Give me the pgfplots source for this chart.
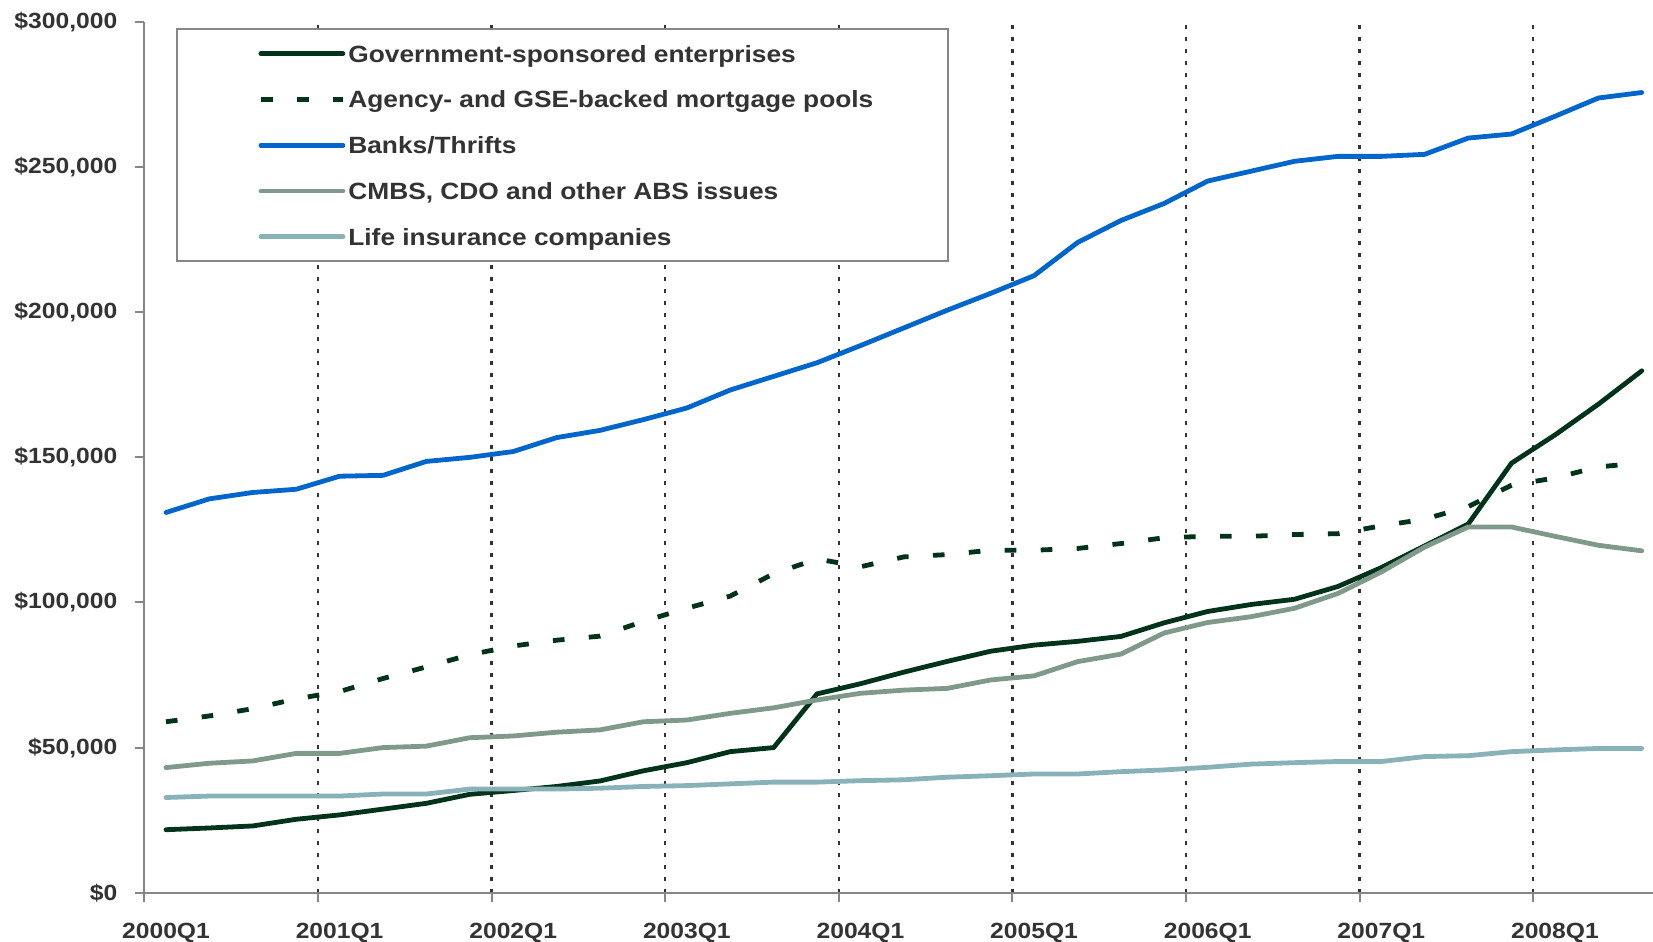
\documentclass[border=0pt]{standalone}
\usepackage{fontspec}
\setmainfont{Liberation Sans}[FakeStretch=1.12]
\usepackage{pgfplots}
\usepackage{pgfplotstable}
\pgfplotsset{compat=1.18}
\definecolor{gse}{HTML}{00331A}
\definecolor{bank}{HTML}{0066CC}
\definecolor{cmbs}{HTML}{7F9A8A}
\definecolor{life}{HTML}{88B1B8}
\definecolor{txt}{HTML}{333333}
\definecolor{axisgray}{HTML}{868686}
\newcommand{\trim}{\kern-3.7bp\null}

\pgfplotstableread{
i gse agency banks cmbs life
0 21.7 58.9 131.0 43.1 32.8
1 22.3 60.9 135.7 44.6 33.3
2 23.0 63.4 137.9 45.4 33.3
3 25.3 66.8 139.0 48.0 33.3
4 26.8 69.3 143.5 48.0 33.3
5 28.8 73.8 143.8 50.0 34.0
6 30.8 77.8 148.6 50.5 34.0
7 33.9 82.0 150.0 53.4 35.7
8 35.2 85.0 152.0 54.0 35.7
9 36.6 87.0 156.8 55.3 35.7
10 38.5 88.4 159.3 56.1 36.0
11 42.0 93.5 163.0 58.9 36.6
12 44.8 98.0 167.0 59.5 36.9
13 48.6 102.2 173.2 61.8 37.5
14 50.0 109.9 177.9 63.7 38.1
15 68.5 115.0 182.6 66.4 38.1
16 72.0 112.3 188.5 68.7 38.6
17 76.0 115.7 194.6 69.8 38.9
18 79.7 116.5 200.7 70.4 39.8
19 83.2 118.0 206.5 73.3 40.3
20 85.3 118.0 212.6 74.7 40.9
21 86.6 118.6 224.0 79.6 40.9
22 88.3 120.3 231.6 82.2 41.7
23 93.0 122.3 237.5 89.5 42.3
24 96.9 122.8 245.2 93.1 43.2
25 99.3 122.8 248.6 95.1 44.3
26 101.1 123.4 252.0 98.0 44.8
27 105.5 123.7 253.7 103.1 45.2
28 112.0 126.4 253.7 110.5 45.2
29 119.5 128.7 254.4 119.1 46.9
30 127.0 133.0 260.0 126.0 47.2
31 148.0 140.4 261.4 126.0 48.6
32 157.7 142.9 267.5 122.8 49.2
33 168.3 146.7 273.8 119.7 49.7
34 179.8 148.1 275.7 117.8 49.7
}\data

\begin{document}
\begin{tikzpicture}
\begin{axis}[
  name=ax, at={(0,0)}, anchor=south west,
  scale only axis, width=754.35bp, height=435.35bp,
  xmin=-0.5, xmax=34.26, ymin=0, ymax=300,
  axis x line=bottom, axis y line=left,
  axis line style={-, draw=axisgray, line width=1bp},
  tick align=outside,
  major tick length=4.4bp,
  tick style={draw=axisgray, line width=1bp},
  xtick={-0.5,3.5,...,31.5},
  xticklabels={},
  xmajorgrids=true,
  major x grid style={draw=txt, line width=1.2bp, dash pattern=on 2bp off 4bp},
  extra x ticks={0,4,...,32},
  extra x tick labels={2000Q1,2001Q1,2002Q1,2003Q1,2004Q1,2005Q1,2006Q1,2007Q1,2008Q1},
  extra x tick style={major tick length=0pt, grid=none},
  xticklabel style={font=\bfseries\fontsize{11bp}{13bp}\selectfont, text=txt, anchor=north, yshift=-11.8bp},
  ytick={0,50,...,300},
  yticklabels={{\$0},{\$50,000},{\$100,000},{\$150,000},{\$200,000},{\$250,000},{\$300,000}},
  yticklabel style={font=\bfseries\fontsize{11bp}{13bp}\selectfont, text=txt, anchor=east, xshift=-5.6bp},
  legend cell align=left,
  legend image code/.code={\draw[#1] (0bp,0bp) -- (41bp,0bp);},
  legend style={at={(rel axis cs:0.0207,0.9928)}, anchor=north west,
    draw=axisgray, line width=1bp, fill=white,
    inner xsep=41bp, inner ysep=5.5bp, row sep=9.5bp, column sep=1.5bp,
    font=\bfseries\fontsize{11.75bp}{13bp}\selectfont, text=txt,
    nodes={inner xsep=0bp, inner ysep=0bp, text height=10.9bp, text depth=2.5bp}},
]
\addplot[gse, line width=2.4bp, line cap=round, line join=round] table[x=i, y=gse] {\data};
\addlegendentry{Government-sponsored enterprises\trim}
\addplot[gse, line width=2.4bp, line cap=butt, dash pattern=on 5.8bp off 12.2bp] table[x=i, y=agency] {\data};
\addlegendentry{Agency- and GSE-backed mortgage pools\trim}
\addplot[bank, line width=2.4bp, line cap=round, line join=round] table[x=i, y=banks] {\data};
\addlegendentry{Banks/Thrifts\trim}
\addplot[cmbs, line width=2.4bp, line cap=round, line join=round] table[x=i, y=cmbs] {\data};
\addlegendentry{CMBS, CDO and other ABS issues\trim}
\addplot[life, line width=2.4bp, line cap=round, line join=round] table[x=i, y=life] {\data};
\addlegendentry{Life insurance companies\trim}
\end{axis}
\pgfresetboundingbox
\path ([xshift=-72.15bp,yshift=-24.65bp]ax.south west) rectangle ([yshift=11bp]ax.north east);
\end{tikzpicture}
\end{document}
